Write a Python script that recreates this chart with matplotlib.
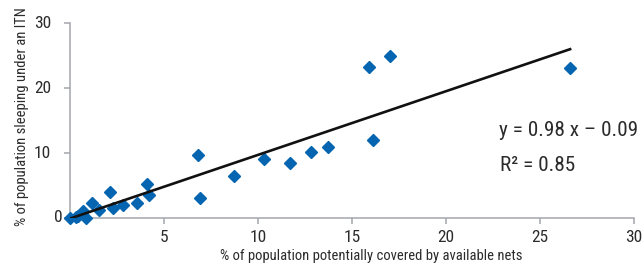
import matplotlib
matplotlib.use('Agg')
import matplotlib.pyplot as plt
import numpy as np

# condensed face first if the box has one, otherwise Liberation Sans
plt.rcParams['font.family'] = ['Liberation Sans Narrow', 'Roboto Condensed',
                               'Open Sans Condensed', 'Liberation Sans', 'DejaVu Sans']

# % of population potentially covered by available nets
coverage = [0, 0.3, 0.45, 0.7, 0.85, 1.15, 1.55, 2.15, 2.3, 2.8, 3.55, 4.1, 4.2,
            6.8, 6.9, 8.7, 10.3, 11.7, 12.8, 13.7, 15.9, 16.1, 17.0, 26.6]
# % of population sleeping under an ITN
sleeping = [0, 0.1, 0.3, 1.0, 0, 2.3, 1.3, 4.0, 1.5, 2.0, 2.3, 5.3, 3.5,
            9.7, 3.0, 6.4, 9.1, 8.4, 10.1, 10.9, 23.3, 12.0, 24.9, 23.1]

slope = 0.98
intercept = -0.09
r_squared = 0.85

x_ticks = [5, 10, 15, 20, 25, 30]
y_ticks = [0, 10, 20, 30]

blue = '#0565b0'
grey = '#a3a6ad'
text_col = '#2b2b2b'

fig = plt.figure(figsize=(6.44, 2.68), dpi=100)
ax = fig.add_axes([0.1087, 0.1866, 0.8758, 0.7274])

ax.plot(coverage, sleeping, linestyle='none', marker='D', markersize=6.5,
        color=blue, clip_on=False, zorder=3)

fit_x = np.array([0, max(coverage)])
ax.plot(fit_x, slope * fit_x + intercept, color='#111111', linewidth=1.9, zorder=4)

ax.set_xlim(0, 30)
ax.set_ylim(0, 30)

for side in ['top', 'right']:
    ax.spines[side].set_visible(False)
for side in ['left', 'bottom']:
    ax.spines[side].set_color(grey)
    ax.spines[side].set_linewidth(1.1)

ax.set_xticks(x_ticks)
ax.set_xticklabels([str(t) for t in x_ticks])
ax.tick_params(axis='x', direction='out', length=4, width=1.1, color=grey,
               labelsize=12.5, labelcolor=text_col, pad=5)

ax.set_yticks(y_ticks)
ax.set_yticklabels([])
ax.tick_params(axis='y', direction='out', length=4, width=1.1, color=grey)
for t in y_ticks:
    off = -5 if t == 0 else -13.5
    ax.annotate(str(t), xy=(0, t), xycoords=('axes fraction', 'data'),
                xytext=(off, 0), textcoords='offset points',
                ha='right', va='center', fontsize=12.5, color=text_col)

ax.set_xlabel('% of population potentially covered by available nets',
              fontsize=10.5, color=text_col)
ax.xaxis.set_label_coords(0.534, -0.16)
ax.set_ylabel('% of population sleeping under an ITN', fontsize=10.5, color=text_col)
ax.yaxis.set_label_coords(-0.073, 0.52)

ax.text(1.007, 0.45, f'y = {slope:.2f} x \u2013 {abs(intercept):.2f}', transform=ax.transAxes,
        ha='right', va='center', fontsize=15.3, color=text_col)
ax.text(0.762, 0.27, f'R\u00b2 = {r_squared:.2f}', transform=ax.transAxes,
        ha='left', va='center', fontsize=15.3, color=text_col)

plt.savefig('out.png', dpi=100)
